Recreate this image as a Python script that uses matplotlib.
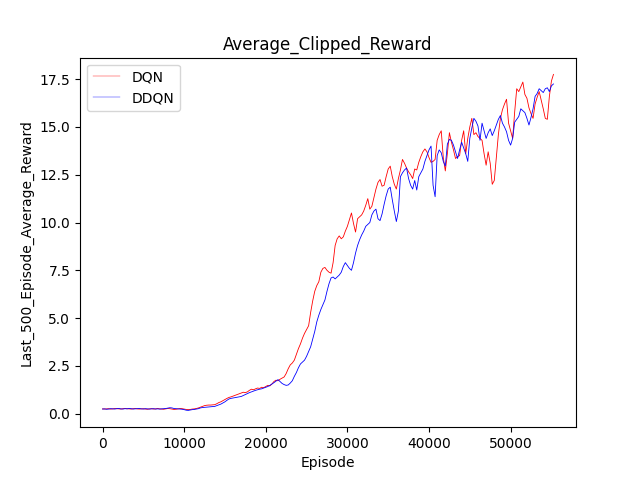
import numpy as np
import matplotlib
matplotlib.use("Agg")
import matplotlib.pyplot as plt

# episode grid (every 250 episodes)
episodes = np.arange(0, 55251, 250)

dqn = [
    0.25, 0.24, 0.25, 0.26, 0.24, 0.25, 0.27, 0.26, 0.25, 0.24, 0.26, 0.27, 0.26, 0.25, 0.24, 0.26,
    0.27, 0.25, 0.24, 0.25, 0.26, 0.24, 0.23, 0.25, 0.26, 0.24, 0.25, 0.27, 0.25, 0.24, 0.23, 0.25,
    0.27, 0.26, 0.24, 0.22, 0.23, 0.25, 0.27, 0.26, 0.24, 0.22, 0.21, 0.22, 0.24, 0.25, 0.27, 0.30,
    0.34, 0.38, 0.42, 0.44, 0.45, 0.45, 0.46, 0.47, 0.52, 0.58, 0.62, 0.68, 0.74, 0.80, 0.85, 0.88,
    0.92, 0.96, 1.00, 1.04, 1.08, 1.12, 1.10, 1.14, 1.22, 1.28, 1.25, 1.30, 1.34, 1.32, 1.38, 1.36,
    1.42, 1.48, 1.45, 1.55, 1.68, 1.75, 1.72, 1.80, 1.86, 1.92, 2.10, 2.35, 2.55, 2.65, 2.80, 3.10,
    3.40, 3.65, 3.95, 4.20, 4.40, 4.60, 5.30, 5.90, 6.40, 6.70, 6.90, 7.40, 7.60, 7.65, 7.50, 7.40,
    7.35, 7.90, 8.80, 9.15, 9.30, 9.15, 9.25, 9.55, 9.80, 10.15, 10.50, 9.95, 9.50, 10.20, 10.30, 10.40,
    10.60, 10.90, 11.25, 10.70, 10.85, 11.30, 11.75, 12.10, 12.25, 11.90, 11.95, 12.40, 12.80, 12.95, 12.40, 12.00,
    11.75, 12.30, 12.75, 13.30, 13.10, 12.85, 12.65, 12.50, 12.30, 12.80, 12.75, 13.15, 13.45, 13.70, 13.85, 13.70,
    13.40, 13.15, 13.20, 13.30, 14.30, 14.60, 14.80, 13.40, 12.70, 13.60, 14.70, 14.20, 13.80, 13.35, 13.45, 13.50,
    14.30, 14.80, 13.60, 14.40, 15.00, 15.45, 14.60, 14.70, 14.50, 14.40, 14.30, 13.60, 13.00, 13.70, 13.10, 12.00,
    12.20, 13.40, 14.60, 15.45, 15.90, 16.20, 16.45, 15.20, 14.80, 14.40, 15.80, 17.00, 16.85, 17.10, 17.35, 16.70,
    16.50, 16.00, 15.70, 15.45, 16.20, 16.55, 16.85, 16.40, 15.95, 15.45, 15.40, 16.60, 17.40, 17.75,
]

ddqn = [
    0.24, 0.25, 0.23, 0.24, 0.26, 0.25, 0.24, 0.26, 0.27, 0.25, 0.24, 0.26, 0.25, 0.27, 0.26, 0.24,
    0.25, 0.26, 0.27, 0.25, 0.24, 0.26, 0.25, 0.24, 0.25, 0.26, 0.24, 0.25, 0.24, 0.25, 0.26, 0.27,
    0.29, 0.31, 0.30, 0.27, 0.26, 0.25, 0.24, 0.23, 0.21, 0.18, 0.17, 0.19, 0.21, 0.22, 0.24, 0.26,
    0.30, 0.32, 0.33, 0.34, 0.35, 0.36, 0.37, 0.38, 0.42, 0.46, 0.50, 0.56, 0.62, 0.70, 0.77, 0.80,
    0.82, 0.84, 0.86, 0.88, 0.90, 0.95, 1.00, 1.05, 1.10, 1.14, 1.18, 1.22, 1.25, 1.28, 1.30, 1.34,
    1.38, 1.42, 1.48, 1.55, 1.62, 1.70, 1.78, 1.68, 1.58, 1.52, 1.48, 1.50, 1.60, 1.72, 1.95, 2.15,
    2.40, 2.60, 2.70, 2.80, 3.00, 3.25, 3.50, 3.90, 4.30, 4.80, 5.15, 5.45, 5.70, 5.95, 6.40, 6.80,
    7.10, 7.15, 7.05, 7.15, 7.25, 7.40, 7.70, 7.90, 7.75, 7.60, 7.50, 7.90, 8.40, 8.80, 9.10, 9.35,
    9.55, 9.80, 9.90, 10.00, 10.40, 10.60, 10.70, 10.20, 10.10, 10.45, 10.95, 11.40, 11.75, 11.85, 11.20, 10.60,
    10.05, 10.60, 12.40, 12.60, 12.75, 12.85, 12.30, 11.95, 11.75, 12.20, 11.70, 12.40, 12.60, 12.80, 13.20, 13.50,
    13.80, 14.00, 11.95, 11.35, 13.50, 13.80, 13.65, 13.20, 12.95, 14.10, 14.35, 14.30, 14.05, 13.70, 13.35, 13.80,
    14.20, 13.90, 13.60, 13.20, 14.40, 14.95, 15.45, 15.30, 15.05, 14.30, 15.20, 14.80, 14.40, 14.70, 14.90, 14.55,
    14.80, 15.10, 15.40, 15.60, 15.20, 15.00, 14.75, 14.30, 14.05, 14.40, 15.25, 15.40, 15.55, 15.95, 15.85, 15.75,
    15.45, 15.10, 15.50, 15.95, 16.60, 16.75, 17.00, 16.90, 16.80, 17.00, 17.05, 16.85, 17.15, 17.25,
]

fig, ax = plt.subplots(figsize=(6.4, 4.8), dpi=100)
ax.plot(episodes, dqn, color="red", linewidth=0.6, label="DQN")
ax.plot(episodes, ddqn, color="blue", linewidth=0.6, label="DDQN")
ax.set_title("Average_Clipped_Reward")
ax.set_xlabel("Episode")
ax.set_ylabel("Last_500_Episode_Average_Reward")
leg = ax.legend(loc="upper left")
for h in leg.get_lines():
    h.set_linewidth(0.3)
fig.savefig("out.png", dpi=100)
